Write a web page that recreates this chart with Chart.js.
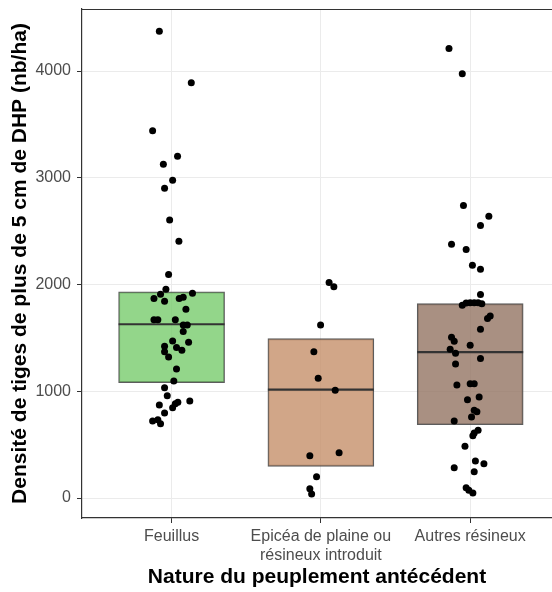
<!DOCTYPE html>
<html lang="fr">
<head>
    <meta charset="UTF-8">
    <title>Densité de tiges</title>
    <script src="https://cdn.jsdelivr.net/npm/chart.js"></script>
    <style>
        html, body {
            margin: 0;
            padding: 0;
            background: #fff;
        }
        #wrap {
            width: 552px;
            height: 592px;
        }
    </style>
</head>
<body>
    <div id="wrap"><canvas id="boxChart" width="552" height="592"></canvas></div>

    <script>
        // categories and tick labels
        const categories = ['Feuillus', 'Epicéa de plaine ou résineux introduit', 'Autres résineux'];
        const tickLabels = [['Feuillus'], ['Epicéa de plaine ou', 'résineux introduit'], ['Autres résineux']];
        const yTicks = [0, 1000, 2000, 3000, 4000];

        // box summaries (Q1, median, Q3)
        const boxQ1 = [1081, 297, 687];
        const boxMedian = [1628, 1015, 1366];
        const boxQ3 = [1931, 1493, 1821];
        const boxColors = ['rgba(120, 204, 109, 0.8)', 'rgba(198, 144, 106, 0.8)', 'rgba(148, 116, 99, 0.8)'];

        // jittered observations: value and horizontal jitter (in category units)
        const feuillusValues = [4373, 3889, 3440, 3202, 3127, 2977, 2902, 2605, 2405, 2093, 1956, 1909, 1868, 1843,
            1868, 1881, 1918, 1768, 1671, 1671, 1671, 1621, 1621, 1559, 1471, 1459, 1421, 1371, 1409, 1384, 1321,
            1209, 1097, 1034, 959, 909, 897, 884, 846, 872, 797, 722, 734, 697];
        const feuillusJitter = [-0.082, 0.132, -0.127, 0.040, -0.055, 0.007, -0.047, -0.013, 0.049, -0.020, -0.038,
            -0.074, -0.118, -0.047, 0.051, 0.078, 0.140, 0.096, -0.118, -0.092, 0.025, 0.078, 0.105, 0.078, 0.007,
            0.114, -0.047, -0.047, 0.033, 0.069, -0.020, 0.033, 0.015, -0.047, -0.029, 0.122, 0.042, 0.025, 0.007,
            -0.082, -0.047, -0.127, -0.092, -0.074];

        const epiceaValues = [2018, 1980, 1621, 1371, 1122, 1009, 396, 425, 200, 87, 37];
        const epiceaJitter = [0.055, 0.087, -0.002, -0.047, -0.018, 0.096, -0.074, 0.122, -0.029, -0.074, -0.062];

        const autresValues = [4211, 3974, 2740, 2640, 2552, 2377, 2327, 2181, 2143, 1906, 1806, 1828, 1830, 1830,
            1830, 1820, 1706, 1681, 1581, 1506, 1468, 1431, 1393, 1356, 1306, 1256, 1059, 1071, 1071, 947, 921,
            822, 809, 759, 722, 634, 609, 584, 484, 347, 321, 284, 247, 97, 72, 47];
        const autresJitter = [-0.142, -0.053, -0.045, 0.125, 0.069, -0.125, -0.027, 0.015, 0.069, 0.069, -0.053,
            -0.027, 0, 0.027, 0.053, 0.078, 0.134, 0.116, 0.069, -0.125, -0.107, 0, -0.134, -0.098, 0.069, -0.098,
            -0.089, 0, 0.027, 0.060, -0.018, 0.027, 0.045, 0.009, -0.107, 0.053, 0.027, 0.018, -0.035, 0.035, 0.092,
            -0.107, 0.027, -0.027, -0.009, 0.018];

        const groups = [
            { values: feuillusValues, jitter: feuillusJitter },
            { values: epiceaValues, jitter: epiceaJitter },
            { values: autresValues, jitter: autresJitter }
        ];

        const BOX_HALF = 0.355;

        // build datasets
        const datasets = [];

        // points on top
        const points = [];
        groups.forEach((g, i) => {
            g.values.forEach((v, j) => points.push({ x: i + 1 + g.jitter[j], y: v }));
        });
        datasets.push({
            type: 'scatter',
            label: 'obs',
            data: points,
            backgroundColor: '#000',
            borderColor: '#000',
            pointRadius: 3.5,
            pointBorderWidth: 0,
            order: 0
        });

        // median lines
        boxMedian.forEach((m, i) => {
            datasets.push({
                type: 'line',
                label: 'median ' + categories[i],
                data: [{ x: i + 1 - BOX_HALF, y: m }, { x: i + 1 + BOX_HALF, y: m }],
                borderColor: '#333333',
                borderWidth: 2.2,
                pointRadius: 0,
                fill: false,
                order: 1
            });
        });

        // boxes as floating bars
        datasets.push({
            type: 'bar',
            label: 'box',
            data: boxQ1.map((q1, i) => ({ x: i + 1, y: [q1, boxQ3[i]] })),
            backgroundColor: boxColors,
            borderColor: 'rgba(51, 51, 51, 0.8)',
            borderWidth: 1.2,
            borderSkipped: false,
            barThickness: 106,
            grouped: false,
            order: 2
        });

        // top border of the panel (theme_bw look)
        const panelBorder = {
            id: 'panelBorder',
            afterDatasetsDraw(chart) {
                const { ctx, chartArea } = chart;
                ctx.save();
                ctx.strokeStyle = '#333333';
                ctx.lineWidth = 1.2;
                ctx.beginPath();
                ctx.moveTo(chartArea.left, chartArea.top + 0.5);
                ctx.lineTo(chartArea.right, chartArea.top + 0.5);
                ctx.stroke();
                ctx.restore();
            }
        };

        const tickFont = { family: 'Arial, "Liberation Sans", sans-serif', size: 16 };
        const titleFont = { family: 'Arial, "Liberation Sans", sans-serif', size: 21, weight: 'bold' };

        new Chart(document.getElementById('boxChart').getContext('2d'), {
            data: { datasets: datasets },
            options: {
                responsive: false,
                animation: false,
                layout: {
                    autoPadding: false,
                    padding: { top: 9, right: 0, left: 0, bottom: 0 }
                },
                plugins: {
                    legend: { display: false },
                    tooltip: { enabled: false }
                },
                scales: {
                    x: {
                        type: 'linear',
                        min: 0.4,
                        max: 3.548,
                        offset: false,
                        afterFit: s => {
                            s.height = 74;
                            s.paddingLeft = 0;
                            s.paddingRight = 0;
                        },
                        afterBuildTicks: s => { s.ticks = [1, 2, 3].map(v => ({ value: v })); },
                        grid: {
                            offset: false,
                            color: '#ebebeb',
                            lineWidth: 1,
                            tickColor: '#333333',
                            tickLength: 5
                        },
                        border: { display: true, color: '#333333', width: 1.2 },
                        ticks: {
                            font: tickFont,
                            color: '#4d4d4d',
                            padding: 4,
                            maxRotation: 0,
                            autoSkip: false,
                            callback: v => tickLabels[Math.round(v) - 1]
                        },
                        title: {
                            display: true,
                            text: 'Nature du peuplement antécédent',
                            font: titleFont,
                            color: '#000',
                            padding: { top: 0, bottom: 2 }
                        }
                    },
                    y: {
                        type: 'linear',
                        min: -187,
                        max: 4581,
                        afterFit: s => {
                            s.width = 82;
                            s.paddingTop = 0;
                            s.paddingBottom = 0;
                        },
                        afterBuildTicks: s => { s.ticks = yTicks.map(v => ({ value: v })); },
                        grid: {
                            color: '#ebebeb',
                            lineWidth: 1,
                            tickColor: '#333333',
                            tickLength: 5
                        },
                        border: { display: true, color: '#333333', width: 1.2 },
                        ticks: {
                            font: tickFont,
                            color: '#4d4d4d',
                            padding: 6,
                            callback: v => String(v)
                        },
                        title: {
                            display: true,
                            text: 'Densité de tiges de plus de 5 cm de DHP (nb/ha)',
                            font: titleFont,
                            color: '#000',
                            padding: { top: 8, bottom: 0 }
                        }
                    }
                }
            },
            plugins: [panelBorder]
        });
    </script>
</body>
</html>
